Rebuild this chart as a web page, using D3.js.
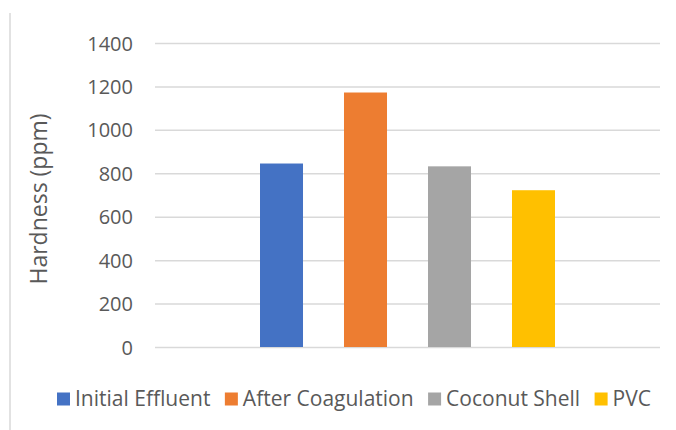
<!DOCTYPE html>
<html><head><meta charset="utf-8">
<script src="https://cdn.jsdelivr.net/npm/d3@7"></script>
<style>body{margin:0;background:#fff}svg{display:block}text{font-family:"Open Sans",sans-serif;fill:#595959}</style>
</head><body><svg id="c" width="676" height="430"></svg>
<script>
const series = ["Initial Effluent","After Coagulation","Coconut Shell","PVC"];
const values = [845, 1172, 832, 722];
const colors = ["#4472C4","#ED7D31","#A5A5A5","#FFC000"];
const yTicks = [0,200,400,600,800,1000,1200,1400];
const yTitle = "Hardness (ppm)";

const svg = d3.select("#c");
const W=676,H=430;
const plot = {left:155,right:660,top:43,bottom:347};

svg.append("line").attr("x1",10).attr("x2",10).attr("y1",13).attr("y2",H)
  .attr("stroke","#d9d9d9").attr("stroke-width",1.5);

const y = d3.scaleLinear().domain([0,1400]).range([plot.bottom,plot.top]);
const x = d3.scaleBand().domain(series).range([plot.left,plot.right]).paddingInner(0.488).paddingOuter(1.25);

const yAxis = d3.axisLeft(y).tickValues(yTicks).tickFormat(d3.format("d")).tickSize(-(plot.right-plot.left)).tickPadding(22);
const g = svg.append("g").attr("transform",`translate(${plot.left},0)`).call(yAxis);
g.select(".domain").remove();
g.selectAll(".tick line").attr("stroke","#d9d9d9").attr("stroke-width",1.5);
g.selectAll(".tick text").style("font-size","20px").attr("fill","#595959").attr("dy","0.35em");

svg.append("g").selectAll("rect").data(values).join("rect")
  .attr("x",(d,i)=>x(series[i])).attr("width",x.bandwidth())
  .attr("y",d=>y(d)).attr("height",d=>y(0)-y(d))
  .attr("fill",(d,i)=>colors[i]);

svg.append("text").attr("transform","translate(47,199) rotate(-90)")
  .attr("text-anchor","middle").style("font-size","23px").text(yTitle);

// legend
const lg = svg.append("g");
const items = lg.selectAll("g").data(series).join("g");
items.append("rect").attr("width",13).attr("height",13).attr("y",-6.5).attr("fill",(d,i)=>colors[i]);
items.append("text").attr("x",18).attr("dy","0.35em").style("font-size","21px").text(d=>d);
const widths=[];
items.each(function(){ widths.push(this.getBBox().width); });
const L0=57, L1=651;
const gap = Math.max(12,(L1-L0-d3.sum(widths))/(widths.length-1));
let cx = L0;
items.attr("transform",(d,i)=>{ const t=`translate(${cx},399)`; cx+=widths[i]+gap; return t; });
</script></body></html>
